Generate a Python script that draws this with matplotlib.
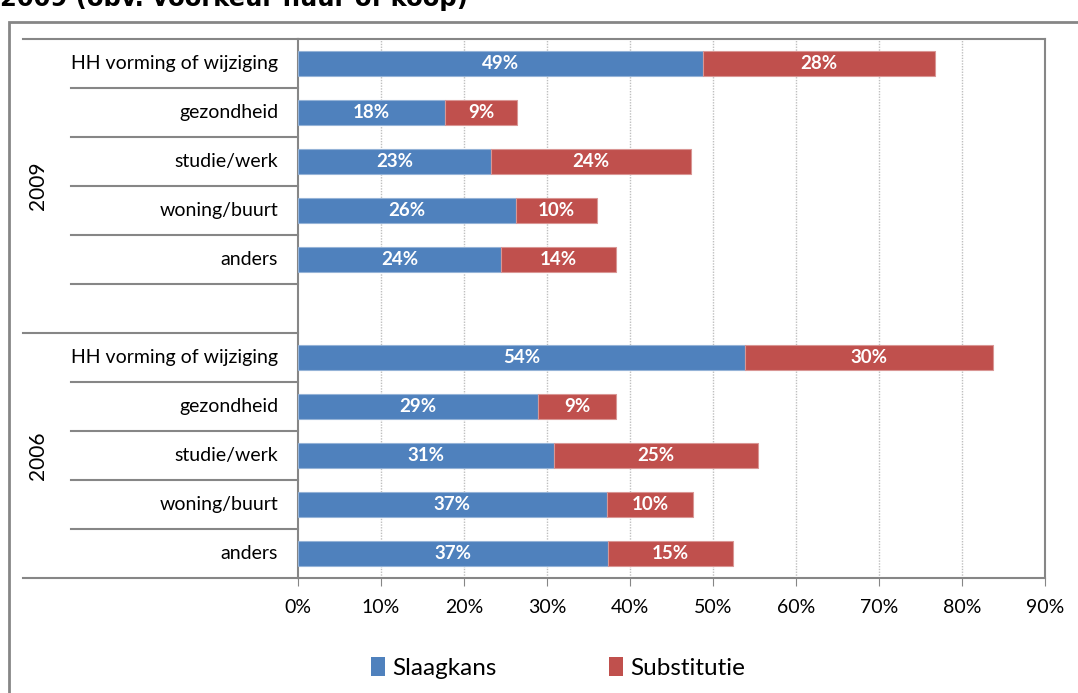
import matplotlib.pyplot as plt
import numpy as np
from matplotlib.patches import Rectangle, Patch
from matplotlib.lines import Line2D
from matplotlib.transforms import blended_transform_factory

plt.rcParams['font.family'] = ['Lato', 'DejaVu Sans']

categories = ['HH vorming of wijziging', 'gezondheid', 'studie/werk', 'woning/buurt', 'anders']
years = ['2009', '2006']
slaagkans_2009 = [48.8, 17.7, 23.3, 26.3, 24.5]
substitutie_2009 = [27.9, 8.7, 24.0, 9.7, 13.8]
slaagkans_2006 = [53.9, 28.9, 30.8, 37.2, 37.3]
substitutie_2006 = [29.8, 9.4, 24.6, 10.4, 15.1]

blue = '#4F81BD'
red = '#C0504D'
grey = '#868686'

W, H = 1078, 693
fig = plt.figure(figsize=(W / 100, H / 100), dpi=100)

def fx(px):
    return px / W

def fy(py):
    return 1 - py / H

ax = fig.add_axes([fx(298), fy(578), fx(1045) - fx(298), fy(39) - fy(578)])

# slot positions: 2009 group takes 6 slots (last one empty), 2006 takes 5
pos_2009 = np.arange(5) + 0.5
pos_2006 = np.arange(5) + 6.5
h = 0.53

for pos, s, r in [(pos_2009, slaagkans_2009, substitutie_2009),
                  (pos_2006, slaagkans_2006, substitutie_2006)]:
    b1 = ax.barh(pos, s, height=h, color=blue, edgecolor='#95B3D7', linewidth=0.8, zorder=3)
    b2 = ax.barh(pos, r, left=s, height=h, color=red, edgecolor='#D99694', linewidth=0.8, zorder=3)
    for bars, vals in [(b1, s), (b2, r)]:
        for bar, v in zip(bars, vals):
            ax.text(bar.get_x() + bar.get_width() / 2, bar.get_y() + bar.get_height() / 2,
                    f'{round(v)}%', ha='center', va='center', color='white',
                    fontsize=13.5, fontweight='bold', zorder=4)

ax.set_xlim(0, 90)
ax.set_ylim(11, 0)
ax.set_xticks(np.arange(0, 91, 10))
ax.set_xticklabels([f'{t}%' for t in range(0, 91, 10)], fontsize=14)
ax.tick_params(axis='x', length=6, color=grey, pad=9)
ax.set_yticks([])
for x in range(10, 90, 10):
    ax.axvline(x, color='#BFBFBF', linestyle=(0, (1, 1)), linewidth=1, zorder=1)
for side in ['left', 'bottom', 'top', 'right']:
    ax.spines[side].set_color(grey)
    ax.spines[side].set_linewidth(1.5)

# multi-level category axis on the left
tr = blended_transform_factory(fig.transFigure, ax.transData)
for y in range(12):
    x0 = fx(23) if y in (0, 6, 11) else fx(71)
    fig.add_artist(Line2D([x0, fx(298)], [y, y], transform=tr, color=grey, linewidth=1.5))

for pos in (pos_2009, pos_2006):
    for p, c in zip(pos, categories):
        fig.text(fx(278), p, c, transform=tr, ha='right', va='center', fontsize=14)

fig.text(fx(38), 3.0, years[0], transform=tr, rotation=90, ha='center', va='center', fontsize=15)
fig.text(fx(38), 8.5, years[1], transform=tr, rotation=90, ha='center', va='center', fontsize=15)

# outer chart frame
fig.add_artist(Rectangle((fx(9), fy(720)), fx(1100) - fx(9), fy(22) - fy(720),
                         transform=fig.transFigure, fill=False, edgecolor=grey, linewidth=2))

# title, partly cut off at the top as in the source
fig.text(fx(0), fy(6), '2009 (obv. voorkeur huur of koop)', ha='left', va='baseline',
         fontsize=17.5, fontweight='bold', family='DejaVu Sans')

handles = [Patch(facecolor=blue), Patch(facecolor=red)]
fig.legend(handles, ['Slaagkans', 'Substitutie'], loc='center', bbox_to_anchor=(fx(558), fy(668)),
           ncol=2, frameon=False, fontsize=17.5, handlelength=0.6, handleheight=0.8,
           handletextpad=0.3, columnspacing=4.6)

fig.savefig('out.png', dpi=100)
